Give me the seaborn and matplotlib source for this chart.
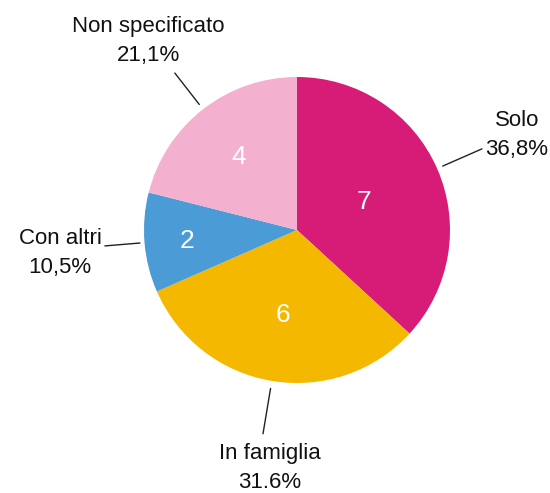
import numpy as np
import matplotlib
matplotlib.use("Agg")
import matplotlib.pyplot as plt
import seaborn as sns

categories = ["Solo", "In famiglia", "Con altri", "Non specificato"]
counts = [7, 6, 2, 4]
pct_labels = ["36,8%", "31.6%", "10,5%", "21,1%"]
colors = ["#D61C77", "#F5B800", "#4A9BD6", "#F4B1CF"]

sns.set_theme(style="white")
plt.rcParams["font.family"] = ["Liberation Sans", "DejaVu Sans"]

W, H = 550, 493
fig = plt.figure(figsize=(W / 100, H / 100), dpi=100)
ax = fig.add_axes([0, 0, 1, 1])
cx, cy, R = 297, H - 230, 153

wedges, texts = ax.pie(counts, colors=colors, startangle=90, counterclock=False,
                       center=(cx, cy), radius=R, labels=None,
                       wedgeprops=dict(linewidth=0))

# inner count labels
inner_r = [0.48, 0.55, 0.72, 0.62]
for w, c, ir in zip(wedges, counts, inner_r):
    ang = np.deg2rad((w.theta1 + w.theta2) / 2)
    ax.text(cx + ir * R * np.cos(ang), cy + ir * R * np.sin(ang) - 2, str(c),
            color="white", fontsize=19, ha="center", va="center")

# leader lines and outer labels
line_start = [1.04, 1.05, 1.03, 1.04]
line_end = [1.32, 1.35, 1.26, 1.30]
label_pos = [(517, 135), (270, 468), (60, 253), (148, 41)]
for w, s, e, cat, p, (lx, ly) in zip(wedges, line_start, line_end, categories, pct_labels, label_pos):
    ang = np.deg2rad((w.theta1 + w.theta2) / 2)
    ax.plot([cx + s * R * np.cos(ang), cx + e * R * np.cos(ang)],
            [cy + s * R * np.sin(ang), cy + e * R * np.sin(ang)],
            color="#222222", linewidth=1)
    ax.text(lx, H - ly, cat + "\n" + p, ha="center", va="center",
            fontsize=16, color="#111111", linespacing=1.5)

ax.set_xlim(0, W)
ax.set_ylim(0, H)
ax.set_aspect("equal")
ax.axis("off")
fig.savefig("out.png", dpi=100, facecolor="white")
